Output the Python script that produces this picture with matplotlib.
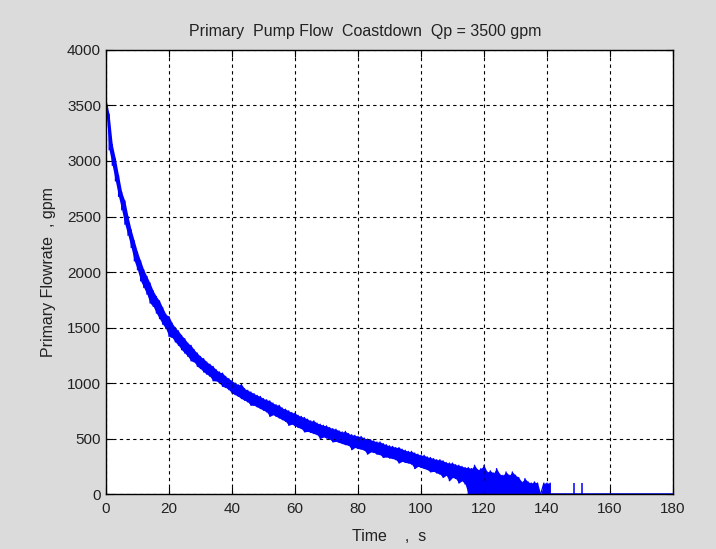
import numpy as np
import matplotlib
matplotlib.use('Agg')
import matplotlib.pyplot as plt

plt.rcParams['font.family'] = ['Liberation Sans Narrow', 'Liberation Sans', 'DejaVu Sans']

# time in seconds, upper and lower edges of the noisy flow trace (gpm)
time_s = list(range(0, 142))
flow_hi = [3560, 3420, 3150, 3020, 2870, 2720, 2640, 2500, 2380, 2280,
           2180, 2100, 2020, 1960, 1900, 1830, 1780, 1740, 1680, 1620,
           1600, 1540, 1500, 1470, 1430, 1400, 1360, 1340, 1300, 1270,
           1240, 1220, 1190, 1170, 1150, 1120, 1100, 1090, 1060, 1040,
           1020, 1000, 985, 990, 950, 935, 920, 905, 890, 880,
           860, 850, 840, 820, 805, 800, 775, 765, 750, 735,
           730, 710, 700, 690, 675, 660, 660, 640, 630, 620,
           615, 600, 590, 585, 570, 560, 565, 545, 535, 530,
           520, 520, 505, 495, 490, 480, 470, 470, 455, 445,
           435, 430, 420, 420, 405, 395, 385, 385, 370, 360,
           350, 350, 335, 330, 320, 310, 310, 300, 285, 280,
           280, 265, 260, 250, 240, 240, 230, 260, 220, 230,
           260, 200, 210, 190, 230, 180, 170, 200, 170, 200,
           170, 150, 110, 140, 110, 100, 110, 100, 0, 100,
           100, 100]
flow_lo = [3450, 3100, 2960, 2820, 2680, 2560, 2430, 2330, 2220, 2100,
           2020, 1920, 1860, 1800, 1720, 1690, 1630, 1580, 1530, 1490,
           1420, 1410, 1370, 1340, 1300, 1270, 1240, 1200, 1190, 1150,
           1130, 1100, 1080, 1060, 1020, 1020, 1000, 970, 960, 940,
           910, 895, 880, 860, 845, 830, 800, 800, 785, 770,
           755, 740, 700, 715, 700, 685, 670, 655, 620, 630,
           615, 600, 590, 560, 565, 555, 545, 535, 500, 515,
           505, 495, 470, 475, 465, 455, 445, 440, 400, 420,
           410, 405, 395, 360, 380, 375, 360, 355, 330, 335,
           325, 320, 310, 280, 295, 285, 280, 270, 230, 250,
           240, 230, 220, 200, 205, 190, 180, 150, 170, 120,
           150, 140, 100, 120, 90, 0, 0, 0, 0, 0,
           0, 0, 0, 0, 0, 0, 0, 0, 0, 0,
           0, 0, 0, 0, 0, 0, 0, 0, 0, 0,
           0, 0]

# isolated spikes after the main trace, and the flat tail at zero
spike_t = [148.6, 151.1]
spike_hi = [100, 100]
tail_t = [141, 180]
tail_flow = [0, 0]

x = np.repeat(time_s, 2)
y = np.column_stack([flow_hi, flow_lo]).ravel()

fig = plt.figure(figsize=(7.16, 5.49), dpi=100, facecolor='#dbdbdb')
ax = fig.add_axes([0.148, 0.100, 0.792, 0.809])
ax.set_facecolor('white')

blue = '#0000ff'
ax.fill_between(time_s, flow_lo, flow_hi, color=blue, linewidth=0)
ax.plot(x, y, color=blue, linewidth=0.9)
ax.plot(tail_t, tail_flow, color=blue, linewidth=1.1)
ax.vlines(spike_t, 0, spike_hi, color=blue, linewidth=1.1)

ax.set_xlim(0, 180)
ax.set_ylim(0, 4000)
ax.set_xticks(range(0, 181, 20))
ax.set_yticks(range(0, 4001, 500))
ax.grid(True, color='black', linestyle=(0, (3, 3)), linewidth=0.8)
ax.tick_params(direction='in', top=True, right=True, length=5,
               labelsize=11, colors='black', labelcolor='#222222')
ax.tick_params(axis='x', pad=6)
for s in ax.spines.values():
    s.set_linewidth(1.0)

ax.set_title('Primary  Pump Flow  Coastdown  Qp = 3500 gpm', fontsize=11.5,
             color='#222222', pad=10, x=0.457)
ax.set_xlabel('Time    ,  s', fontsize=11.5, color='#222222', labelpad=9)
ax.set_ylabel('Primary Flowrate  , gpm', fontsize=11.5, color='#222222',
              labelpad=8)

fig.savefig('out.png', dpi=100, facecolor=fig.get_facecolor())
